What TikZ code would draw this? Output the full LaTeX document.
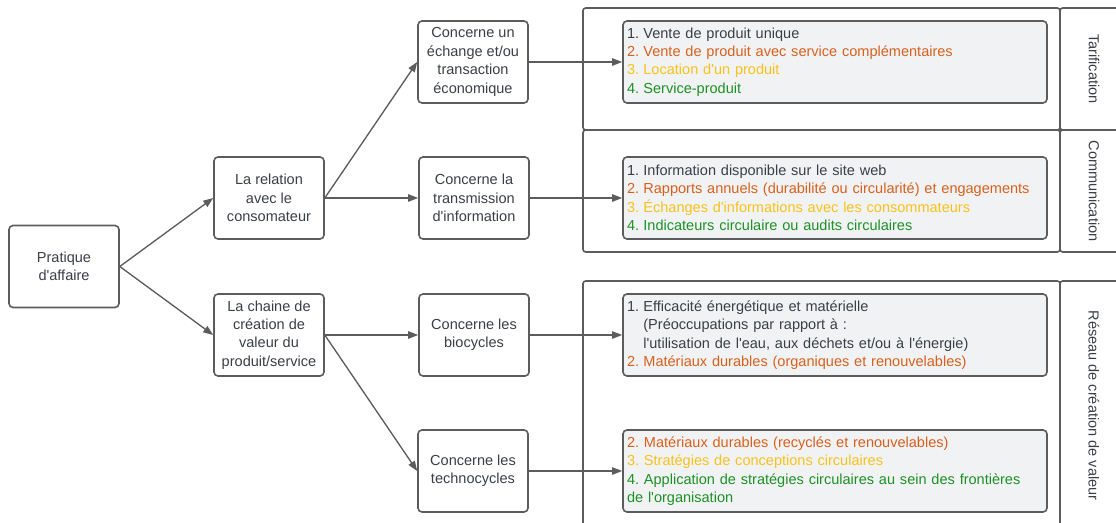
\documentclass[tikz,border=0pt]{standalone}
\usepackage{fontspec}
\setmainfont{Liberation Sans}[Ligatures=TeXOff]
\usepackage{xcolor}
\usetikzlibrary{arrows.meta,positioning}

\definecolor{trait}{HTML}{5C5C5C}
\definecolor{texte}{HTML}{3A3F46}
\definecolor{fond}{HTML}{F1F2F4}
\definecolor{orangec}{HTML}{D9601C}
\definecolor{jaunec}{HTML}{F8C21A}
\definecolor{vertc}{HTML}{1C9124}

% numbered line of a list
\newcommand{\itm}[2]{\makebox[12.3pt][l]{#1}#2}

\begin{document}
\frenchspacing
\begin{tikzpicture}[x=0.75pt, y=-0.75pt, node distance=153.75pt,
    box/.style={draw=trait, line width=1.2pt, rounded corners=3pt, fill=white,
        minimum width=82.5pt, minimum height=61.5pt, align=center, text=texte,
        inner sep=1pt, font=\fontsize{10.9}{13.8}\selectfont},
    liste/.style={box, fill=fond, minimum width=318pt, text width=312pt,
        align=left, inner xsep=3pt},
    cadre/.style={draw=trait, line width=1.2pt, rounded corners=2pt,
        minimum width=357.75pt, minimum height=91.5pt},
    cellule/.style={cadre, minimum width=51pt},
    etiq/.style={rotate=-90, text=texte, font=\fontsize{10.9}{13.8}\selectfont}]

    \useasboundingbox (0,0) rectangle (1116,523);

    % Frames
    \node[cadre] (fr1) at (821.5,69) {};
    \node[cadre] (fr2) at (821.5,191) {};
    \node[cadre, minimum height=186.75pt] (fr3) at (821.5,405.5) {};
    \node[cellule] (ce1) at (1094,69) {};
    \node[cellule] (ce2) at (1094,191) {};
    \node[cellule, minimum height=186.75pt] (ce3) at (1094,405.5) {};
    \node[etiq] (tarif) at (ce1) {Tarification};
    \node[etiq] (comm) at (ce2) {Communication};
    \node[etiq] (reseau) at (ce3) {Réseau de création de valeur};

    % Boxes
    \node[box] (pa) at (64,266.5) {Pratique\\d'affaire};
    \node[box] (rel) at (269,198) {La relation\\avec le\\consomateur};
    \node[box] (chaine) at (269,335) {La chaine de\\création de\\valeur du\\produit/service};
    \node[box] (ech) at (473,62) {Concerne un\\échange et/ou\\transaction\\économique};
    \node[box] (trans) [right of=rel] {Concerne la\\transmission\\d'information};
    \node[box] (bio) [right of=chaine] {Concerne les\\biocycles};
    \node[box] (techno) at (473,471) {Concerne les\\technocycles};

    % Lists
    \node[liste] (l1) at (835,62) {\itm{1.}{Vente de produit unique}\\
        \textcolor{orangec}{\itm{2.}{Vente de produit avec service complémentaires}}\\
        \textcolor{jaunec}{\itm{3.}{Location d'un produit}}\\
        \textcolor{vertc}{\itm{4.}{Service-produit}}};
    \node[liste] (l2) at (835,198) {\itm{1.}{Information disponible sur le site web}\\
        \textcolor{orangec}{\itm{2.}{Rapports annuels (durabilité ou circularité) et engagements}}\\
        \textcolor{jaunec}{\itm{3.}{Échanges d'informations avec les consommateurs}}\\
        \textcolor{vertc}{\itm{4.}{Indicateurs circulaire ou audits circulaires}}};
    \node[liste] (l3) at (835,335) {\itm{1.}{Efficacité énergétique et matérielle}\\
        \itm{}{(Préoccupations par rapport à :}\\
        \itm{}{l'utilisation de l'eau, aux déchets et/ou à l'énergie)}\\
        \textcolor{orangec}{\itm{2.}{Matériaux durables (organiques et renouvelables)}}};
    \node[liste] (l4) at (835,471) {\textcolor{orangec}{2. Matériaux durables (recyclés et renouvelables)}\\
        \textcolor{jaunec}{3. Stratégies de conceptions circulaires}\\
        \textcolor{vertc}{4. Application de stratégies circulaires au sein des frontières}\\
        \textcolor{vertc}{de l'organisation}};

    % Connectors
    \path[-{Triangle[length=7.5pt,width=5.5pt]}, trait, line width=1pt]
        (pa.east) edge (rel.west)
        (pa.east) edge (chaine.west)
        (rel.east) edge (ech.west)
        (rel.east) edge (trans.west)
        (chaine.east) edge (bio.west)
        (chaine.east) edge (techno.west)
        (ech.east) edge (l1.west)
        (trans.east) edge (l2.west)
        (bio.east) edge (l3.west)
        (techno.east) edge (l4.west);

\end{tikzpicture}
\end{document}
